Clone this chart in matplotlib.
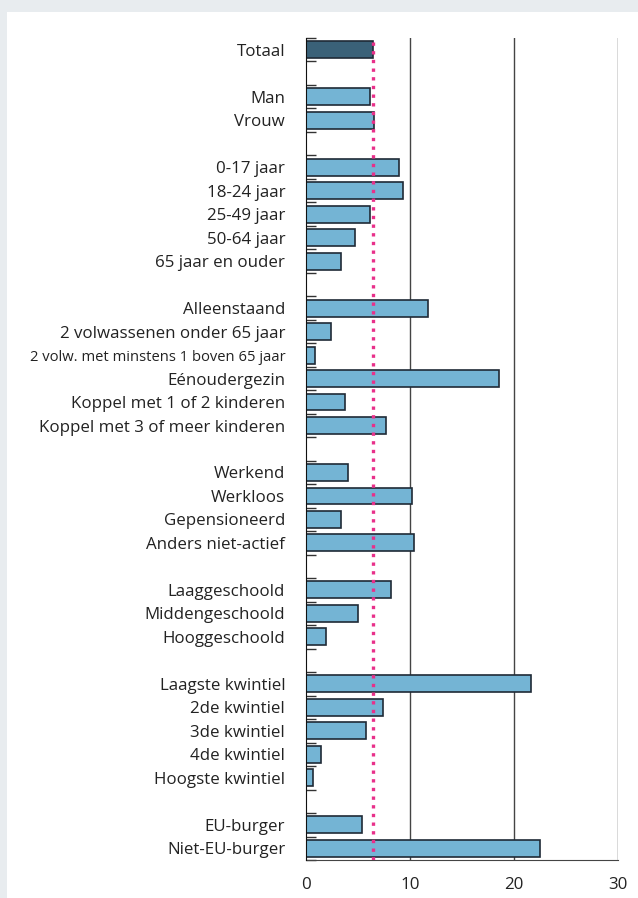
import matplotlib.pyplot as plt
from matplotlib.patches import Rectangle
import numpy as np

# rows from top to bottom, None = empty spacer row
labels = [
    "Totaal", None,
    "Man", "Vrouw", None,
    "0-17 jaar", "18-24 jaar", "25-49 jaar", "50-64 jaar", "65 jaar en ouder", None,
    "Alleenstaand", "2 volwassenen onder 65 jaar", "2 volw. met minstens 1 boven 65 jaar",
    "Eénoudergezin", "Koppel met 1 of 2 kinderen", "Koppel met 3 of meer kinderen", None,
    "Werkend", "Werkloos", "Gepensioneerd", "Anders niet-actief", None,
    "Laaggeschoold", "Middengeschoold", "Hooggeschoold", None,
    "Laagste kwintiel", "2de kwintiel", "3de kwintiel", "4de kwintiel", "Hoogste kwintiel", None,
    "EU-burger", "Niet-EU-burger",
]
values = [
    6.4, None,
    6.2, 6.5, None,
    8.9, 9.3, 6.2, 4.7, 3.4, None,
    11.7, 2.4, 0.9, 18.6, 3.75, 7.7, None,
    4.0, 10.2, 3.4, 10.4, None,
    8.2, 5.0, 1.9, None,
    21.6, 7.4, 5.8, 1.4, 0.7, None,
    5.4, 22.5,
]
total_line = 6.4
xticks = [0, 10, 20, 30]

plt.rcParams['font.family'] = ['Open Sans', 'DejaVu Sans']

fig = plt.figure(figsize=(6.38, 8.98), dpi=100)
fig.patch.set_facecolor("#e8ecef")
fig.patches.append(Rectangle((7 / 638, 0), 1, 1 - 12 / 898, transform=fig.transFigure,
                             facecolor="white", edgecolor="none", zorder=-1))

ax = fig.add_axes([306 / 638, 1 - 860 / 898, 312 / 638, 822 / 898])
ax.set_facecolor("none")

n = len(labels)
ys = np.arange(n)
for y, lab, v in zip(ys, labels, values):
    if v is None:
        continue
    color = "#3a6178" if lab == "Totaal" else "#74b4d4"
    ax.barh(y, v, height=0.72, color=color, edgecolor="#1f2a36", linewidth=1.2, zorder=3)

ax.axvline(total_line, color="#e8308a", linestyle=(0, (1, 1.6)), linewidth=2.4, zorder=4)

ax.set_ylim(n - 0.5, -0.5)
ax.set_xlim(0, 30)
ax.set_xticks(xticks)
ax.set_xticklabels([str(t) for t in xticks])
for t in xticks[1:]:
    ax.axvline(t, color="#444444", linewidth=1.0, zorder=1)

tick_pos = [y for y, lab in zip(ys, labels) if lab is not None]
ax.set_yticks(tick_pos)
ylabs = []
for y in tick_pos:
    ylabs.append(labels[y])
ax.set_yticklabels(ylabs)
for t in ax.get_yticklabels():
    if t.get_text().startswith("2 volw. met"):
        t.set_fontsize(10.6)
    else:
        t.set_fontsize(12.2)
    t.set_color("#222222")

ax.set_yticks(np.arange(-0.5, n, 1.0), minor=True)
ax.tick_params(axis="y", which="major", length=0, pad=15)
ax.tick_params(axis="y", which="minor", direction="in", length=7, width=1.0, color="#333333")
ax.tick_params(axis="x", length=0, pad=12, labelsize=12.2, labelcolor="#222222")

for s in ["top", "right"]:
    ax.spines[s].set_visible(False)
ax.spines["left"].set_color("#111111")
ax.spines["bottom"].set_color("#444444")
ax.spines["left"].set_zorder(5)

fig.savefig("out.png", dpi=100, facecolor=fig.get_facecolor())
